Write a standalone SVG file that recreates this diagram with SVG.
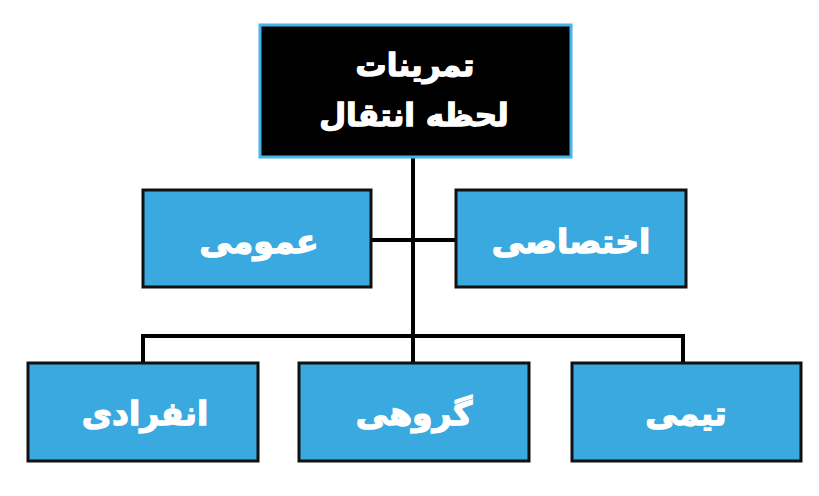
<svg xmlns="http://www.w3.org/2000/svg" width="819" height="496" viewBox="0 0 819 496">
<style>
.box{fill:#3aa9e0;stroke:#111;stroke-width:3}
.root{fill:#000;stroke:#45b4e6;stroke-width:3}
.t{font-family:"DejaVu Sans","Noto Sans",sans-serif;font-weight:bold;fill:#fff;stroke:#fff;stroke-width:1.3;text-anchor:middle;direction:rtl}
.c{stroke:#000;stroke-width:4;fill:none}
</style>
<rect width="819" height="496" fill="#fff"/>
<g id="connectors">
<line class="c" x1="413" y1="158" x2="413" y2="363"/>
<line class="c" x1="371" y1="240" x2="455" y2="240"/>
<polyline class="c" points="143,363 143,336 683,336 683,363"/>
</g>
<g id="root">
<rect class="root" x="260" y="25" width="311" height="132"/>
<text class="t" x="415" y="76" font-size="31">تمرینات</text>
<text class="t" x="414" y="126" font-size="31">لحظه انتقال</text>
</g>
<g id="omumi">
<rect class="box" x="143" y="190" width="228" height="97"/>
<text class="t" x="259" y="253" font-size="33">عمومی</text>
</g>
<g id="ekhtesasi">
<rect class="box" x="456" y="190" width="230" height="97"/>
<text class="t" x="571" y="253" font-size="33">اختصاصی</text>
</g>
<g id="enferadi">
<rect class="box" x="28" y="363" width="230" height="98"/>
<text class="t" x="145" y="425" font-size="33">انفرادی</text>
</g>
<g id="gorouhi">
<rect class="box" x="299" y="363" width="230" height="98"/>
<text class="t" x="414" y="425" font-size="33">گروهی</text>
</g>
<g id="teami">
<rect class="box" x="572" y="363" width="229" height="98"/>
<text class="t" x="686" y="425" font-size="33">تیمی</text>
</g>
</svg>
